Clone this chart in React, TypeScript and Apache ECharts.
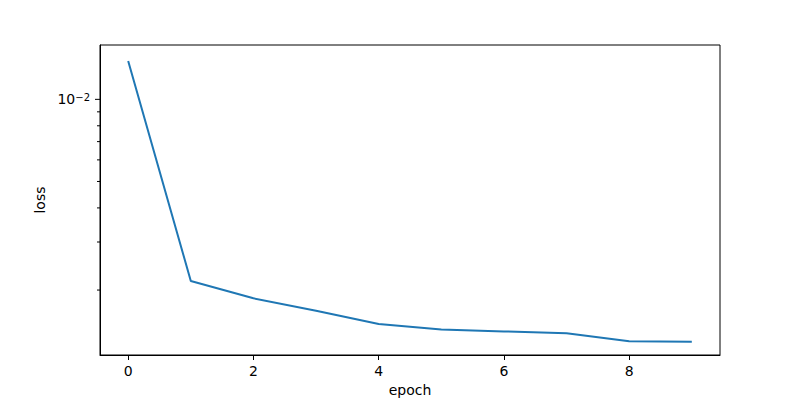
import React, { useEffect, useRef } from "react";
import * as echarts from "echarts";

const epochs = [0, 1, 2, 3, 4, 5, 6, 7, 8, 9];
const loss = [1.381e-2, 2.159e-3, 1.865e-3, 1.679e-3, 1.501e-3, 1.435e-3, 1.411e-3, 1.389e-3, 1.297e-3, 1.292e-3];
const xTicks = [0, 2, 4, 6, 8];
const yMajorTicks = [1e-2];
const yMinorTicks = [2e-3, 3e-3, 4e-3, 5e-3, 6e-3, 7e-3, 8e-3, 9e-3];
const xLabel = "epoch";
const yLabel = "loss";

const FONT = "DejaVu Sans";

export default function App() {
  const ref = useRef<HTMLDivElement>(null);
  useEffect(() => {
    if (!ref.current) return;
    const chart = echarts.init(ref.current, null, { renderer: "svg" });
    const tickData = [
      ...yMajorTicks.map((v) => [0, v, 1]),
      ...yMinorTicks.map((v) => [0, v, 0]),
    ];
    chart.setOption({
      animation: false,
      backgroundColor: "#fff",
      grid: {
        left: 100,
        right: 80,
        top: 45,
        bottom: 45,
        show: true,
        borderColor: "#000",
        borderWidth: 1,
        backgroundColor: "transparent",
        containLabel: false,
        outerBoundsMode: "none",
      },
      xAxis: {
        type: "value",
        min: -0.45,
        max: 9.45,
        name: xLabel,
        nameLocation: "middle",
        nameGap: 27,
        nameTextStyle: { fontFamily: FONT, fontSize: 14, color: "#000" },
        axisLine: { show: true, onZero: false, lineStyle: { color: "#000", width: 1 } },
        axisTick: {
          show: true,
          customValues: xTicks,
          length: 5,
          lineStyle: { color: "#000", width: 1 },
        },
        axisLabel: {
          customValues: xTicks,
          margin: 9,
          fontFamily: FONT,
          fontSize: 14,
          color: "#000",
        },
        splitLine: { show: false },
      },
      yAxis: {
        type: "log",
        logBase: 10,
        min: 1.156e-3,
        max: 1.582e-2,
        name: yLabel,
        nameLocation: "middle",
        nameGap: 48,
        nameTextStyle: { fontFamily: FONT, fontSize: 14, color: "#000" },
        axisLine: { show: true, onZero: false, lineStyle: { color: "#000", width: 1 } },
        axisTick: { show: false },
        splitLine: { show: false },
        minorSplitLine: { show: false },
        axisLabel: {
          margin: 10,
          fontFamily: FONT,
          color: "#000",
          showMinLabel: false,
          showMaxLabel: false,
          formatter: (v: number) => {
            const e = Math.log10(v);
            const r = Math.round(e);
            if (Math.abs(e - r) > 1e-6) return "";
            return "{b|10}{s|" + (r < 0 ? "\u2212" + -r : String(r)) + "}";
          },
          rich: {
            b: { fontFamily: FONT, fontSize: 14, color: "#000", lineHeight: 14 },
            s: {
              fontFamily: FONT,
              fontSize: 10,
              color: "#000",
              lineHeight: 10,
              verticalAlign: "top",
            },
          },
        },
      },
      series: [
        {
          type: "line",
          data: epochs.map((e, i) => [e, loss[i]]),
          showSymbol: false,
          symbol: "none",
          lineStyle: { color: "#1f77b4", width: 2 },
          itemStyle: { color: "#1f77b4" },
          z: 3,
        },
        {
          type: "custom",
          data: tickData,
          clip: false,
          silent: true,
          z: 5,
          renderItem: (params: any, api: any) => {
            const y = api.coord([0, api.value(1)])[1];
            const x0 = params.coordSys.x;
            const len = api.value(2) === 1 ? 5 : 3;
            return {
              type: "line",
              shape: { x1: x0 - len, y1: y, x2: x0, y2: y },
              style: { stroke: "#000", lineWidth: 1 },
            };
          },
        },
      ],
    });
    return () => chart.dispose();
  }, []);
  return <div ref={ref} style={{ width: 800, height: 400, position: "absolute", left: 0, top: 0 }} />;
}
